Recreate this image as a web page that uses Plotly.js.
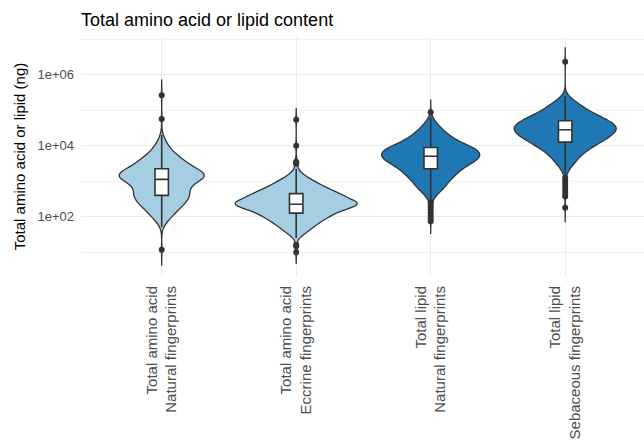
<!DOCTYPE html>
<html>
<head>
<meta charset="utf-8">
<script src="https://cdn.plot.ly/plotly-3.0.1.min.js"></script>
<style>
html, body { margin: 0; padding: 0; background: #ffffff; }
#chart { width: 644px; height: 442px; }
</style>
</head>
<body>
<div id="chart"></div>
<script>
// Categories (x axis)
const categories = [
  'Total amino acid<br>Natural fingerprints',
  'Total amino acid<br>Eccrine fingerprints',
  'Total lipid<br>Natural fingerprints',
  'Total lipid<br>Sebaceous fingerprints'
];

// Y ticks: values are log10(ng)
const yTickValues = [2, 4, 6];
const yTickLabels = ['1e+02', '1e+04', '1e+06'];
const yMinorValues = [1, 3, 5, 7];

// Samples as a frequency table: log10(ng) level -> number of samples,
// plus the individually visible outlying samples.
const aaNaturalLevels = [
  1.70, 1.75, 1.80, 1.85, 1.90, 1.95, 2.00, 2.05, 2.10, 2.15, 2.20, 2.25, 2.30, 2.35,
  2.40, 2.45, 2.50, 2.55, 2.60, 2.65, 2.70, 2.75, 2.80, 2.85, 2.90, 2.95, 3.00, 3.05,
  3.10, 3.15, 3.20, 3.25, 3.30, 3.35, 3.40, 3.45, 3.50, 3.55, 3.60, 3.65, 3.70, 3.75,
  3.80, 3.85, 3.90, 3.95, 4.00, 4.05, 4.10, 4.15, 4.20, 4.25, 4.30
];
const aaNaturalCounts = [
  1, 1, 2, 3, 4, 5, 6, 7, 8, 9, 10, 11, 12, 13,
  15, 16, 17, 17, 17, 17, 17, 16, 16, 16, 16, 17, 21, 26,
  30, 31, 30, 26, 22, 20, 18, 17, 16, 14, 13, 12, 10, 9,
  7, 6, 5, 5, 4, 3, 3, 2, 2, 1, 1
];
const aaNaturalOutliers = [1.07, 4.75, 5.42];

const aaEccrineLevels = [
  1.40, 1.45, 1.50, 1.55, 1.60, 1.65, 1.70, 1.75, 1.80, 1.85, 1.90, 1.95, 2.00, 2.05,
  2.10, 2.15, 2.20, 2.25, 2.30, 2.35, 2.40, 2.45, 2.50, 2.55, 2.60, 2.65, 2.70, 2.75,
  2.80, 2.85, 2.90, 2.95, 3.00, 3.05, 3.10, 3.15, 3.20, 3.25, 3.30, 3.35
];
const aaEccrineCounts = [
  1, 2, 4, 5, 6, 7, 8, 9, 10, 12, 13, 14, 16, 17,
  19, 20, 22, 24, 32, 35, 33, 27, 25, 22, 24, 22, 19, 17,
  15, 13, 12, 10, 9, 7, 6, 4, 3, 2, 1, 1
];
const aaEccrineOutliers = [1.00, 1.17, 1.21, 3.49, 3.52, 3.55, 4.00, 4.73];

const lipidNaturalLevels = [
  2.40, 2.45, 2.50, 2.55, 2.60, 2.65, 2.70, 2.75, 2.80, 2.85, 2.90, 2.95, 3.00, 3.05,
  3.10, 3.15, 3.20, 3.25, 3.30, 3.35, 3.40, 3.45, 3.50, 3.55, 3.60, 3.65, 3.70, 3.75,
  3.80, 3.85, 3.90, 3.95, 4.00, 4.05, 4.10, 4.15, 4.20, 4.25, 4.30, 4.35, 4.40, 4.45,
  4.50, 4.55, 4.60, 4.65, 4.70, 4.75, 4.80
];
const lipidNaturalCounts = [
  1, 2, 3, 4, 5, 6, 10, 12, 14, 15, 16, 17, 19, 20,
  23, 24, 26, 28, 31, 30, 34, 38, 42, 45, 48, 50, 52, 52,
  52, 50, 48, 44, 40, 33, 29, 26, 23, 21, 19, 16, 14, 12,
  11, 9, 7, 5, 4, 3, 2
];
const lipidNaturalOutliers = [1.87, 1.95, 2.03, 2.12, 2.20, 2.27, 2.34, 4.94];

const lipidSebaceousLevels = [
  3.20, 3.25, 3.30, 3.35, 3.40, 3.45, 3.50, 3.55, 3.60, 3.65, 3.70, 3.75, 3.80, 3.85,
  3.90, 3.95, 4.00, 4.05, 4.10, 4.15, 4.20, 4.25, 4.30, 4.35, 4.40, 4.45, 4.50, 4.55,
  4.60, 4.65, 4.70, 4.75, 4.80, 4.85, 4.90, 4.95, 5.00, 5.05, 5.10, 5.15, 5.20, 5.25,
  5.30, 5.35, 5.40
];
const lipidSebaceousCounts = [
  2, 2, 3, 4, 5, 8, 9, 10, 11, 12, 15, 16, 18, 20,
  22, 25, 28, 33, 34, 37, 40, 43, 45, 48, 50, 51, 52, 51,
  49, 46, 43, 40, 34, 31, 28, 25, 22, 19, 16, 14, 12, 10,
  7, 5, 3
];
const lipidSebaceousOutliers = [2.25, 2.57, 2.66, 2.75, 2.84, 2.93, 3.02, 3.10, 6.36];

function samplesFrom(levels, counts, outliers) {
  const out = [];
  levels.forEach(function (v, i) {
    for (let k = 0; k < counts[i]; k++) out.push(v);
  });
  return out.concat(outliers);
}

const groups = [
  samplesFrom(aaNaturalLevels, aaNaturalCounts, aaNaturalOutliers),
  samplesFrom(aaEccrineLevels, aaEccrineCounts, aaEccrineOutliers),
  samplesFrom(lipidNaturalLevels, lipidNaturalCounts, lipidNaturalOutliers),
  samplesFrom(lipidSebaceousLevels, lipidSebaceousCounts, lipidSebaceousOutliers)
];

// Styles
const fills = ['#A6CEE3', '#A6CEE3', '#1F78B4', '#1F78B4'];
const bandwidths = [0.145, 0.105, 0.12, 0.13];
const violinWidths = [0.632, 0.907, 0.729, 0.758];
const FONT = 'Liberation Sans, Arial, Helvetica, sans-serif';

const traces = [];
groups.forEach(function (vals, i) {
  const lo = Math.min.apply(null, vals);
  const hi = Math.max.apply(null, vals);
  const bw = bandwidths[i];
  traces.push({
    type: 'violin',
    x: vals.map(function () { return categories[i]; }),
    y: vals,
    fillcolor: fills[i],
    opacity: 1,
    line: { color: '#333333', width: 1.3 },
    points: false,
    box: { visible: false },
    meanline: { visible: false },
    bandwidth: bw,
    spanmode: 'manual',
    span: [lo - 3 * bw, hi + 3 * bw],
    scalemode: 'width',
    width: violinWidths[i],
    hoverinfo: 'skip',
    showlegend: false
  });
});
groups.forEach(function (vals, i) {
  traces.push({
    type: 'box',
    x: vals.map(function () { return categories[i]; }),
    y: vals,
    boxpoints: 'outliers',
    jitter: 0,
    pointpos: 0,
    width: 0.1,
    whiskerwidth: 0,
    fillcolor: '#FFFFFF',
    line: { color: '#333333', width: 1.6 },
    marker: { color: '#333333', size: 6, line: { width: 0 } },
    hoverinfo: 'skip',
    showlegend: false
  });
});

const layout = {
  width: 644,
  height: 442,
  margin: { l: 81, r: 0, t: 37, b: 166, pad: 0 },
  paper_bgcolor: '#ffffff',
  plot_bgcolor: '#ffffff',
  font: { family: FONT, color: '#000000' },
  showlegend: false,
  hovermode: false,
  violinmode: 'overlay',
  boxmode: 'overlay',
  title: {
    text: 'Total amino acid or lipid content',
    font: { family: FONT, size: 18, color: '#000000' },
    x: 0, xref: 'paper', xanchor: 'left',
    y: 1 - 20 / 442, yref: 'container', yanchor: 'middle'
  },
  xaxis: {
    type: 'category',
    categoryorder: 'array',
    categoryarray: categories,
    range: [-0.6, 3.586],
    showgrid: true,
    gridcolor: '#EBEBEB',
    gridwidth: 1.1,
    zeroline: false,
    showline: false,
    ticks: '',
    tickangle: -90,
    ticklabelstandoff: 6,
    tickfont: { family: FONT, size: 15, color: '#4D4D4D' }
  },
  yaxis: {
    range: [0.33, 7.06],
    tickmode: 'array',
    tickvals: yTickValues,
    ticktext: yTickLabels,
    showgrid: true,
    gridcolor: '#EBEBEB',
    gridwidth: 1.1,
    minor: { tickmode: 'array', tickvals: yMinorValues, showgrid: true, gridcolor: '#EFEFEF', gridwidth: 0.8, ticks: '' },
    zeroline: false,
    showline: false,
    ticks: '',
    ticklabelstandoff: 6,
    tickfont: { family: FONT, size: 13, color: '#4D4D4D' },
    title: {
      text: 'Total amino acid or lipid (ng)',
      font: { family: FONT, size: 15, color: '#000000' },
      standoff: 8
    }
  }
};

Plotly.newPlot('chart', traces, layout, { staticPlot: true, displayModeBar: false });
</script>
</body>
</html>
